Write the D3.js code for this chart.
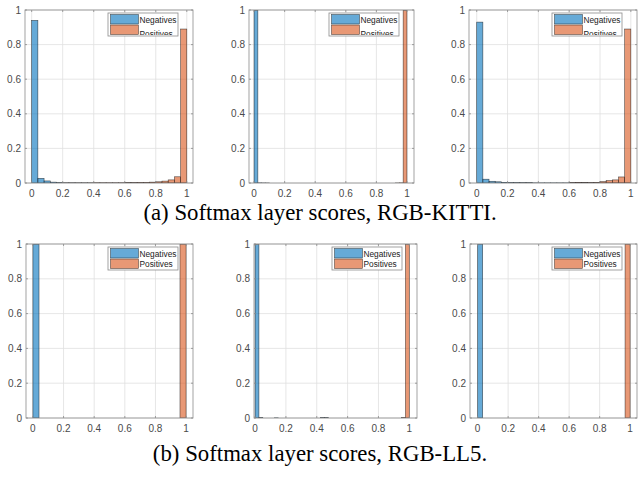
<!DOCTYPE html>
<html>
<head>
<meta charset="utf-8">
<script src="https://cdn.jsdelivr.net/npm/d3@7"></script>
<style>
  body { margin: 0; background: #fff; }
  svg { display: block; }
</style>
</head>
<body>
<script>
// Bin heights (probability), one array per histogram
var binsA1 = 0.04;
var negA1 = [0.94, 0.027, 0.012, 0.005, 0.002, 0.001, 0.001, 0.0008, 0.0006, 0.0005, 0.0004, 0.0004, 0.0003,
    0.0003, 0.0003, 0.0003, 0.0002, 0.0002, 0.0002, 0.0002, 0.0002, 0.0002, 0.0002, 0.0002, 0.0003];
var posA1 = [0, 0, 0, 0, 0, 0.0005, 0.0005, 0.0005, 0.0005, 0.0005, 0.001, 0.001, 0.001, 0.001, 0.001,
    0.002, 0.002, 0.003, 0.003, 0.005, 0.007, 0.011, 0.018, 0.036, 0.89];

var binsA2 = 0.025;
var negA2 = [0.998, 0.001, 0.0005, 0.0003, 0, 0, 0, 0, 0, 0, 0, 0, 0, 0, 0, 0, 0, 0, 0, 0,
    0, 0, 0, 0, 0, 0, 0, 0, 0, 0, 0, 0, 0, 0, 0, 0, 0, 0, 0, 0];
var posA2 = [0, 0, 0, 0, 0, 0, 0, 0, 0, 0, 0, 0, 0, 0, 0, 0, 0, 0, 0, 0,
    0, 0, 0, 0, 0, 0, 0, 0, 0, 0, 0, 0, 0, 0, 0, 0, 0, 0.0003, 0.001, 0.998];

var binsA3 = 0.04;
var negA3 = [0.93, 0.022, 0.01, 0.007, 0.004, 0.003, 0.003, 0.002, 0.002, 0.001, 0.001, 0.001, 0.001,
    0.001, 0.001, 0.001, 0.002, 0.002, 0.001, 0.001, 0.001, 0.001, 0.001, 0.001, 0.001];
var posA3 = [0, 0, 0, 0, 0, 0, 0, 0, 0, 0, 0, 0, 0, 0, 0, 0.002, 0.003, 0.002, 0.002, 0.003,
    0.008, 0.014, 0.018, 0.035, 0.89];

var binsB1 = 0.04;
var negB1 = [0.999, 0, 0, 0, 0, 0, 0, 0, 0, 0, 0, 0, 0, 0, 0, 0, 0, 0, 0, 0, 0, 0, 0, 0, 0];
var posB1 = [0, 0, 0, 0, 0, 0, 0, 0, 0, 0, 0, 0, 0, 0, 0, 0, 0, 0, 0, 0, 0, 0, 0, 0, 0.999];

var binsB2 = 0.025;
var negB2 = [0.996, 0.002, 0, 0, 0, 0.001, 0, 0, 0, 0, 0, 0, 0, 0, 0, 0, 0, 0.002, 0.002, 0,
    0, 0, 0, 0, 0, 0, 0, 0, 0, 0, 0, 0, 0, 0, 0, 0, 0, 0, 0, 0];
var posB2 = [0, 0, 0, 0, 0, 0, 0, 0, 0, 0, 0, 0, 0, 0, 0, 0, 0, 0, 0, 0,
    0, 0, 0, 0, 0, 0, 0, 0, 0, 0, 0, 0, 0, 0, 0, 0, 0, 0, 0.002, 0.997];

var binsB3 = 1 / 30;
var negB3 = [0.999, 0, 0, 0, 0, 0, 0, 0, 0, 0, 0, 0, 0, 0, 0, 0, 0, 0, 0, 0, 0, 0, 0, 0, 0, 0, 0, 0, 0, 0];
var posB3 = [0, 0, 0, 0, 0, 0, 0, 0, 0, 0, 0, 0, 0, 0, 0, 0, 0, 0, 0, 0, 0, 0, 0, 0, 0, 0, 0, 0, 0, 0.999];

var tickValues = [0, 0.2, 0.4, 0.6, 0.8, 1];
var tickLabels = ["0", "0.2", "0.4", "0.6", "0.8", "1"];
var seriesNames = ["Negatives", "Positives"];
var captions = ["(a) Softmax layer scores, RGB-KITTI.", "(b) Softmax layer scores, RGB-LL5."];

var colors = ["#0072BD", "#D95319"];

var svg = d3.select("body").append("svg")
    .attr("width", 638)
    .attr("height", 477);

// panel boxes in pixels plus the x-limits used by each axes
var panels = [
    { neg: negA1, pos: posA1, bw: binsA1, left: 25, right: 193, top: 10, bottom: 183, xdom: [-0.043, 1.04], clipLegend: true },
    { neg: negA2, pos: posA2, bw: binsA2, left: 249, right: 414, top: 10, bottom: 183, xdom: [-0.033, 1.046], clipLegend: true },
    { neg: negA3, pos: posA3, bw: binsA3, left: 469, right: 637, top: 10, bottom: 183, xdom: [-0.05, 1.04], clipLegend: true },
    { neg: negB1, pos: posB1, bw: binsB1, left: 26, right: 193, top: 244, bottom: 418, xdom: [-0.045, 1.045], clipLegend: false },
    { neg: negB2, pos: posB2, bw: binsB2, left: 254, right: 417, top: 244, bottom: 418, xdom: [-0.007, 1.05], clipLegend: false },
    { neg: negB3, pos: posB3, bw: binsB3, left: 470, right: 637, top: 244, bottom: 418, xdom: [-0.05, 1.045], clipLegend: false }
];

panels.forEach(function (p, pi) {
    var x = d3.scaleLinear().domain(p.xdom).range([p.left, p.right]);
    var y = d3.scaleLinear().domain([0, 1]).range([p.bottom, p.top]);
    var g = svg.append("g");

    // grid
    g.append("g").selectAll("line.gx")
        .data(tickValues)
        .enter().append("line")
        .attr("x1", d => x(d)).attr("x2", d => x(d))
        .attr("y1", p.top).attr("y2", p.bottom)
        .attr("stroke", "#e0e0e0").attr("stroke-width", 0.8);
    g.append("g").selectAll("line.gy")
        .data(tickValues)
        .enter().append("line")
        .attr("x1", p.left).attr("x2", p.right)
        .attr("y1", d => y(d)).attr("y2", d => y(d))
        .attr("stroke", "#e0e0e0").attr("stroke-width", 0.8);

    // clip bars to the axes
    var clipId = "clip" + pi;
    svg.append("clipPath").attr("id", clipId)
        .append("rect")
        .attr("x", p.left).attr("y", p.top)
        .attr("width", p.right - p.left).attr("height", p.bottom - p.top);

    var bars = g.append("g").attr("clip-path", "url(#" + clipId + ")");
    [p.neg, p.pos].forEach(function (series, si) {
        bars.selectAll("rect.s" + si)
            .data(series.map((v, i) => ({ x0: i * p.bw, x1: (i + 1) * p.bw, v: v })).filter(d => d.v > 0))
            .enter().append("rect")
            .attr("class", "s" + si)
            .attr("x", d => x(d.x0))
            .attr("width", d => x(d.x1) - x(d.x0))
            .attr("y", d => y(d.v))
            .attr("height", d => y(0) - y(d.v))
            .attr("fill", colors[si])
            .attr("fill-opacity", 0.6)
            .attr("stroke", "#000")
            .attr("stroke-opacity", 0.65)
            .attr("stroke-width", 0.6);
    });

    // axes box
    g.append("rect")
        .attr("x", p.left).attr("y", p.top)
        .attr("width", p.right - p.left).attr("height", p.bottom - p.top)
        .attr("fill", "none").attr("stroke", "#8c8c8c").attr("stroke-width", 0.8);

    // tick marks (inside, on all four sides)
    var tl = 2;
    tickValues.forEach(function (t) {
        g.append("line").attr("x1", x(t)).attr("x2", x(t)).attr("y1", p.bottom).attr("y2", p.bottom - tl)
            .attr("stroke", "#8c8c8c").attr("stroke-width", 0.8);
        g.append("line").attr("x1", x(t)).attr("x2", x(t)).attr("y1", p.top).attr("y2", p.top + tl)
            .attr("stroke", "#8c8c8c").attr("stroke-width", 0.8);
        g.append("line").attr("x1", p.left).attr("x2", p.left + tl).attr("y1", y(t)).attr("y2", y(t))
            .attr("stroke", "#8c8c8c").attr("stroke-width", 0.8);
        g.append("line").attr("x1", p.right).attr("x2", p.right - tl).attr("y1", y(t)).attr("y2", y(t))
            .attr("stroke", "#8c8c8c").attr("stroke-width", 0.8);
    });

    // tick labels
    g.append("g").selectAll("text")
        .data(tickValues)
        .enter().append("text")
        .attr("x", d => x(d))
        .attr("y", p.bottom + 14)
        .attr("text-anchor", "middle")
        .attr("font-family", "Liberation Sans, Arial, sans-serif")
        .attr("font-size", "10px")
        .attr("fill", "#4a4a4a")
        .text((d, i) => tickLabels[i]);
    g.append("g").selectAll("text")
        .data(tickValues)
        .enter().append("text")
        .attr("x", p.left - 4)
        .attr("y", d => y(d) + 3.5)
        .attr("text-anchor", "end")
        .attr("font-family", "Liberation Sans, Arial, sans-serif")
        .attr("font-size", "10px")
        .attr("fill", "#4a4a4a")
        .text((d, i) => tickLabels[i]);

    // legend
    var lw = 70, lh = 23;
    var lx = p.right - 15 - lw, ly = p.top + 3;
    var leg = g.append("g");
    leg.append("rect")
        .attr("x", lx).attr("y", ly).attr("width", lw).attr("height", lh)
        .attr("fill", "#fff").attr("stroke", "#8c8c8c").attr("stroke-width", 0.8);
    var legClip = "legclip" + pi;
    svg.append("clipPath").attr("id", legClip)
        .append("rect").attr("x", lx).attr("y", ly).attr("width", lw).attr("height", lh - 1);
    var items = leg.append("g").attr("clip-path", "url(#" + legClip + ")");
    seriesNames.forEach(function (name, i) {
        items.append("rect")
            .attr("x", lx + 2.5).attr("y", ly + 1.5 + i * 10.5)
            .attr("width", 28).attr("height", 9.5)
            .attr("fill", colors[i]).attr("fill-opacity", 0.6)
            .attr("stroke", "#000").attr("stroke-opacity", 0.65).attr("stroke-width", 0.6);
        var base = p.clipLegend && i == 1 ? ly + 23.5 : ly + 9.5 + i * 10.5;
        items.append("text")
            .attr("x", lx + 31.5).attr("y", base)
            .attr("font-family", "Liberation Sans, Arial, sans-serif")
            .attr("font-size", "8.3px")
            .attr("fill", "#222")
            .text(name);
    });
});

// captions
svg.selectAll("text.caption")
    .data(captions)
    .enter().append("text")
    .attr("class", "caption")
    .attr("x", 320)
    .attr("y", (d, i) => i == 0 ? 220 : 461)
    .attr("text-anchor", "middle")
    .attr("font-family", "Liberation Serif, Times New Roman, serif")
    .attr("font-size", "22.8px")
    .attr("fill", "#000")
    .text(d => d);
</script>
</body>
</html>
